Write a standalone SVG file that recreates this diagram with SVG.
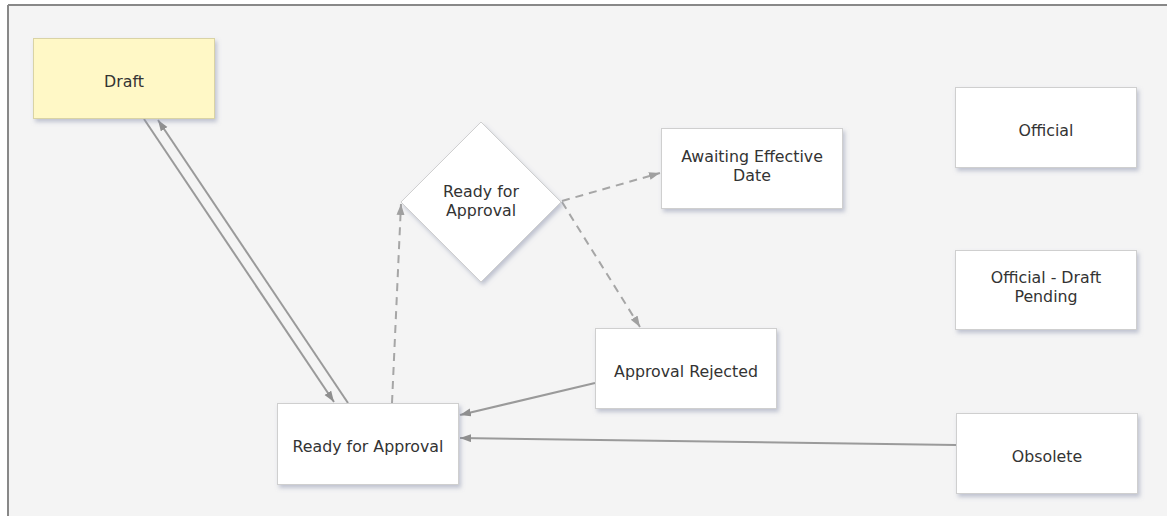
<svg xmlns="http://www.w3.org/2000/svg" width="1167" height="516" viewBox="0 0 1167 516">
<style>
.node{fill:#ffffff;stroke:#cfcfcf;stroke-width:1;filter:url(#sh)}
.draft{fill:#fff8c6;stroke:#d9d3a5}
.lbl{font-family:"DejaVu Sans",Verdana,sans-serif;font-size:15.8px;fill:#333333;text-anchor:middle}
.solid{fill:none;stroke:#9a9a9a;stroke-width:2}
.dash{fill:none;stroke:#a6a6a6;stroke-width:2;stroke-dasharray:8 6}
</style>
<defs>
<filter id="sh" x="-10%" y="-10%" width="130%" height="130%">
<feDropShadow dx="2" dy="3" stdDeviation="2" flood-color="#8a92ad" flood-opacity="0.5"/>
</filter>
<marker id="arr" markerUnits="userSpaceOnUse" markerWidth="12" markerHeight="10" refX="11" refY="4" orient="auto">
<path d="M0,0 L11,4 L0,8 Z" fill="#8f8f8f"/>
</marker>
<marker id="arrd" markerUnits="userSpaceOnUse" markerWidth="12" markerHeight="10" refX="11" refY="4" orient="auto">
<path d="M0,0 L11,4 L0,8 Z" fill="#a0a0a0"/>
</marker>
</defs>
<rect x="0" y="0" width="1167" height="516" fill="#ffffff"/>
<rect x="8" y="6" width="1159" height="510" fill="#f4f4f4"/>
<line x1="8" y1="5" x2="1167" y2="5" stroke="#888888" stroke-width="2"/>
<line x1="8" y1="5" x2="8" y2="516" stroke="#888888" stroke-width="2"/>
<g id="connectors">
<line class="solid" x1="144" y1="119" x2="334" y2="402" marker-end="url(#arr)"/>
<line class="solid" x1="348" y1="403" x2="158" y2="120" marker-end="url(#arr)"/>
<line class="dash" x1="392" y1="403" x2="401" y2="204" marker-end="url(#arrd)"/>
<line class="dash" x1="562" y1="201" x2="660" y2="173" marker-end="url(#arrd)"/>
<line class="dash" x1="562" y1="202" x2="640" y2="327" marker-end="url(#arrd)"/>
<line class="solid" x1="595" y1="383" x2="460" y2="415" marker-end="url(#arr)"/>
<line class="solid" x1="956" y1="445" x2="460" y2="438" marker-end="url(#arr)"/>
</g>
<g id="draft">
<rect class="node draft" x="33.5" y="38.5" width="181" height="80"/>
<text class="lbl" x="124" y="87">Draft</text>
</g>
<g id="ready-for-approval-decision">
<polygon class="node" points="481,122 561,202 481,282 401,202"/>
<text class="lbl" x="481" y="197">Ready for</text>
<text class="lbl" x="481" y="216">Approval</text>
</g>
<g id="awaiting-effective-date">
<rect class="node" x="661.5" y="128.5" width="181" height="80"/>
<text class="lbl" x="752" y="162">Awaiting Effective</text>
<text class="lbl" x="752" y="181">Date</text>
</g>
<g id="official">
<rect class="node" x="955.5" y="87.5" width="181" height="80"/>
<text class="lbl" x="1046" y="135.5">Official</text>
</g>
<g id="official-draft-pending">
<rect class="node" x="955.5" y="250.5" width="181" height="79"/>
<text class="lbl" x="1046" y="283">Official - Draft</text>
<text class="lbl" x="1046" y="302">Pending</text>
</g>
<g id="approval-rejected">
<rect class="node" x="595.5" y="328.5" width="181" height="80"/>
<text class="lbl" x="686" y="377">Approval Rejected</text>
</g>
<g id="ready-for-approval">
<rect class="node" x="277.5" y="403.5" width="181" height="81"/>
<text class="lbl" x="368" y="452">Ready for Approval</text>
</g>
<g id="obsolete">
<rect class="node" x="956.5" y="413.5" width="181" height="80"/>
<text class="lbl" x="1047" y="461.5">Obsolete</text>
</g>
</svg>
